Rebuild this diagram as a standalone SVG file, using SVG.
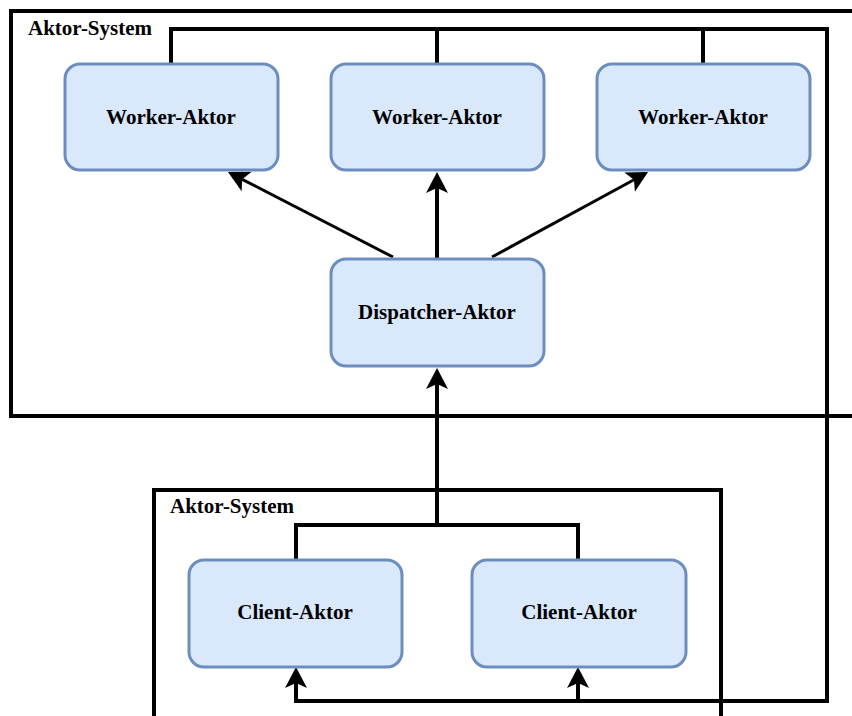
<svg xmlns="http://www.w3.org/2000/svg" width="852" height="716" viewBox="0 0 852 716">
  <style>
    .sys { fill: none; stroke: #000; stroke-width: 4; }
    .sys-label { font-family: 'Liberation Serif', 'DejaVu Serif', serif; font-weight: 700; font-size: 21px; fill: #000; }
    .actor rect { fill: #dae8fc; stroke: #6c8ebf; stroke-width: 3; }
    .actor text { font-family: 'Liberation Serif', 'DejaVu Serif', serif; font-weight: 700; font-size: 21px; fill: #000; text-anchor: middle; }
    .wire { fill: none; stroke: #000; stroke-width: 4; stroke-linejoin: miter; }
    .wire.thin { stroke-width: 3; }
    .arrow { marker-end: url(#head); }
  </style>
  <defs>
    <marker id="head" viewBox="-6 -12 24 24" refX="0" refY="0" markerWidth="24" markerHeight="24" markerUnits="userSpaceOnUse" orient="auto">
      <path d="M16,0 L-5,-11 L0,0 L-5,11 Z" fill="#000"/>
    </marker>
  </defs>

  <rect width="852" height="716" fill="#fff"/>

  <!-- actor systems -->
  <g id="system-server">
    <rect class="sys" x="11" y="11" width="860" height="405"/>
    <text class="sys-label" x="28" y="35">Aktor-System</text>
  </g>
  <g id="system-client">
    <rect class="sys" x="154" y="490" width="567" height="240"/>
    <text class="sys-label" x="170" y="513">Aktor-System</text>
  </g>

  <!-- connectors -->
  <g id="connectors">
    <path class="wire arrow" d="M171,64 V29 H827 V701 H296 V683"/>
    <path class="wire" d="M437,29 V64"/>
    <path class="wire" d="M703,29 V64"/>
    <path class="wire arrow" d="M578,701 V683"/>
    <path class="wire" d="M296,560 V525 H578 V560"/>
    <path class="wire arrow" d="M437,525 V384"/>
    <path class="wire arrow" d="M437,259 V188"/>
    <path class="wire thin arrow" d="M393,257 L242.2,179.3"/>
    <path class="wire thin arrow" d="M492,257 L634,179.7"/>
  </g>

  <!-- actors -->
  <g id="worker-1" class="actor">
    <rect x="65" y="64" width="213" height="106" rx="15"/>
    <text x="171" y="124">Worker-Aktor</text>
  </g>
  <g id="worker-2" class="actor">
    <rect x="331" y="64" width="213" height="106" rx="15"/>
    <text x="437" y="124">Worker-Aktor</text>
  </g>
  <g id="worker-3" class="actor">
    <rect x="597" y="64" width="213" height="106" rx="15"/>
    <text x="703" y="124">Worker-Aktor</text>
  </g>
  <g id="dispatcher" class="actor">
    <rect x="331" y="259" width="213" height="107" rx="15"/>
    <text x="437" y="319">Dispatcher-Aktor</text>
  </g>
  <g id="client-1" class="actor">
    <rect x="189" y="560" width="213" height="107" rx="15"/>
    <text x="295" y="619">Client-Aktor</text>
  </g>
  <g id="client-2" class="actor">
    <rect x="472" y="560" width="214" height="107" rx="15"/>
    <text x="579" y="619">Client-Aktor</text>
  </g>
</svg>
